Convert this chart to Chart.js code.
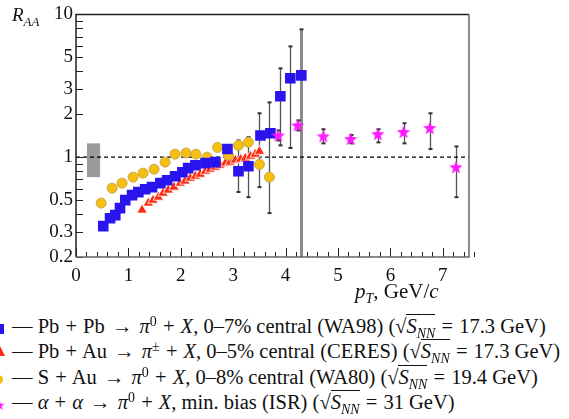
<!DOCTYPE html>
<html>
<head>
<meta charset="utf-8">
<script src="https://cdn.jsdelivr.net/npm/chart.js@4.4.0/dist/chart.umd.min.js"></script>
<style>
  body { margin: 0; background: #fff; width: 569px; height: 419px; overflow: hidden; position: relative; font-family: "Liberation Serif", "Times New Roman", serif; color: #111; }
  #chart { position: absolute; left: 0; top: 0; }
  .lbl { position: absolute; font-size: 19px; white-space: nowrap; line-height: 1; }
  .s { position: relative; font-size: 14px; line-height: 0; }
  .sub { top: 5px; }
  .sup { top: -7px; }
  .legend { position: absolute; left: 12px; top: 314px; font-size: 20.5px; line-height: 25.4px; white-space: nowrap; }
  .legend > div { height: 25.4px; }
  .op { margin: 0 1px; }
  .ar { margin: 0 2px; font-weight: bold; }
  .root { border-top: 1px solid #111; }
  .mk { position: absolute; }
</style>
</head>
<body>
<canvas id="chart" width="569" height="300"></canvas>

<div class="lbl" style="left:12px; top:5px;"><i>R</i><i class="s sub" style="font-size:13px">AA</i></div>
<div class="lbl" style="left:355px; top:281px; font-size:21px;"><i>p</i><i class="s sub">T</i>, GeV/<i>c</i></div>

<div class="mk" style="left:-6px; top:324px; width:10px; height:10px; background:#2a14ee;"></div>
<div class="mk" style="left:-5px; top:346px; width:10px; height:10px; background:#ff2a10; clip-path:polygon(50% 0,100% 100%,0 100%);"></div>
<div class="mk" style="left:-6px; top:375px; width:9px; height:9px; background:#f5bf10; border-radius:50%;"></div>
<div class="mk" style="left:-6px; top:400px; width:11px; height:11px; background:#ff1aff; clip-path:polygon(50% 0,61% 35%,98% 35%,68% 57%,79% 91%,50% 70%,21% 91%,32% 57%,2% 35%,39% 35%);"></div>

<div class="legend">
  <div>— Pb <span class="op">+</span> Pb <span class="ar">→</span> <i>π</i><span class="s sup">0</span> <span class="op">+</span> <i>X</i>, 0–7% central (WA98) (√<span class="root"><i>S</i><i class="s sub">NN</i></span> <span class="op">=</span> 17.3 GeV)</div>
  <div>— Pb <span class="op">+</span> Au <span class="ar">→</span> <i>π</i><span class="s sup">±</span> <span class="op">+</span> <i>X</i>, 0–5% central (CERES) (√<span class="root"><i>S</i><i class="s sub">NN</i></span> <span class="op">=</span> 17.3 GeV)</div>
  <div>— S <span class="op">+</span> Au <span class="ar">→</span> <i>π</i><span class="s sup">0</span> <span class="op">+</span> <i>X</i>, 0–8% central (WA80) (√<span class="root"><i>S</i><i class="s sub">NN</i></span> <span class="op">=</span> 19.4 GeV)</div>
  <div>— <i>α</i> <span class="op">+</span> <i>α</i> <span class="ar">→</span> <i>π</i><span class="s sup">0</span> <span class="op">+</span> <i>X</i>, min. bias (ISR) (√<span class="root"><i>S</i><i class="s sub">NN</i></span> <span class="op">=</span> 31 GeV)</div>
</div>

<script>
// axis ranges and tick labels
const X_MIN = 0;
const X_MAX = 7.5;
const Y_MIN = 0.2;
const Y_MAX = 10;
const xTickLabels = ["0", "1", "2", "3", "4", "5", "6", "7"];
const yTickValues = [0.2, 0.3, 0.4, 0.5, 0.6, 0.7, 0.8, 0.9, 1, 2, 3, 4, 5, 6, 7, 8, 9, 10];
const yTickLabels = [0.2, 0.3, 0.5, 1, 2, 3, 5, 10];

// Pb + Pb (WA98)
const wa98X = [0.52, 0.65, 0.75, 0.84, 0.94, 1.07, 1.19, 1.32, 1.45, 1.61, 1.74, 1.89, 2.03, 2.14, 2.28, 2.47, 2.66, 2.89, 3.10, 3.29, 3.52, 3.71, 3.90, 4.09, 4.30];
const wa98Y = [0.329, 0.374, 0.393, 0.44, 0.5, 0.542, 0.569, 0.597, 0.617, 0.658, 0.69, 0.736, 0.785, 0.838, 0.879, 0.908, 0.923, 1.14, 0.798, 0.865, 1.42, 1.47, 2.67, 3.57, 3.74];

// Pb + Au (CERES)
const ceresX = [1.26, 1.38, 1.47, 1.57, 1.66, 1.76, 1.87, 1.99, 2.08, 2.18, 2.28, 2.37, 2.47, 2.56, 2.66, 2.75, 2.85, 2.94, 3.04, 3.14, 3.23, 3.33, 3.42, 3.50];
const ceresY = [0.426, 0.477, 0.5, 0.525, 0.56, 0.588, 0.617, 0.658, 0.68, 0.713, 0.736, 0.76, 0.798, 0.824, 0.851, 0.879, 0.908, 0.923, 0.953, 0.968, 0.984, 1.016, 1.05, 1.1];

// S + Au (WA80)
const wa80X = [0.48, 0.69, 0.88, 1.09, 1.28, 1.49, 1.70, 1.89, 2.10, 2.29, 2.50, 2.70, 2.91, 3.10, 3.29, 3.50, 3.69];
const wa80Y = [0.477, 0.607, 0.658, 0.725, 0.773, 0.824, 0.923, 1.05, 1.07, 1.05, 1.0, 1.17, 1.03, 1.21, 1.27, 0.89, 0.725];

// alpha + alpha (ISR)
const isrX = [3.86, 4.23, 4.72, 5.24, 5.76, 6.25, 6.75, 7.25];
const isrY = [1.42, 1.67, 1.40, 1.34, 1.45, 1.50, 1.60, 0.85];

// error bars: x, low, high
const errX = [3.10, 3.29, 3.50, 3.69, 3.90, 4.09, 4.30, 3.86, 4.23, 4.72, 5.24, 5.76, 6.25, 6.75, 7.25];
const errLow = [0.57, 0.525, 0.617, 0.406, 1.21, 1.16, 0.2, 1.31, 1.54, 1.25, 1.25, 1.27, 1.25, 1.14, 0.525];
const errHigh = [1.31, 1.38, 2.03, 2.42, 4.19, 5.97, 7.86, 1.54, 1.81, 1.57, 1.43, 1.57, 1.73, 2.03, 1.19];

// normalisation uncertainty box
const normBoxX = [0.21, 0.46];
const normBoxY = [0.725, 1.25];

const refLineX = [X_MIN, X_MAX];
const refLineY = [1, 1];

function toPoints(xs, ys) {
  return xs.map((x, i) => ({ x, y: ys[i] }));
}

function makeStar(size, color) {
  const c = document.createElement("canvas");
  c.width = size;
  c.height = size;
  const g = c.getContext("2d");
  const r = size / 2;
  g.beginPath();
  for (let i = 0; i < 10; i++) {
    const rad = i % 2 === 0 ? r : r * 0.42;
    const a = -Math.PI / 2 + (i * Math.PI) / 5;
    g.lineTo(r + rad * Math.cos(a), r + 0.5 + rad * Math.sin(a));
  }
  g.closePath();
  g.fillStyle = color;
  g.fill();
  return c;
}

const decorPlugin = {
  id: "decor",
  beforeDatasetsDraw(chart) {
    const { ctx, scales: { x, y } } = chart;
    ctx.save();
    // grey box around 1
    const bx0 = x.getPixelForValue(normBoxX[0]);
    const bx1 = x.getPixelForValue(normBoxX[1]);
    const by0 = y.getPixelForValue(normBoxY[1]);
    const by1 = y.getPixelForValue(normBoxY[0]);
    ctx.fillStyle = "#9b9b9b";
    ctx.fillRect(bx0, by0, bx1 - bx0, by1 - by0);

    // error bars
    errX.forEach((ex, i) => {
      const px = Math.round(x.getPixelForValue(ex)) + 0.5;
      const top = y.getPixelForValue(errHigh[i]);
      const bottom = y.getPixelForValue(errLow[i]);
      const full = errLow[i] <= Y_MIN;
      ctx.strokeStyle = full ? "#8a8a8a" : "#555";
      ctx.lineWidth = full ? 3 : 1.3;
      ctx.beginPath();
      ctx.moveTo(px, top);
      ctx.lineTo(px, bottom);
      ctx.stroke();
      ctx.fillStyle = "#333";
      ctx.fillRect(px - 2, top - 1, 4, 2);
      if (!full) ctx.fillRect(px - 2, bottom - 1, 4, 2);
    });
    ctx.restore();
  },
  afterDraw(chart) {
    const { ctx, chartArea: a, scales: { x, y } } = chart;
    ctx.save();
    ctx.strokeStyle = "#222";
    ctx.lineWidth = 1;
    // inward ticks
    ctx.beginPath();
    for (let i = 0; i <= Math.round((X_MAX - X_MIN) / 0.2); i++) {
      const v = X_MIN + i * 0.2;
      const px = Math.round(x.getPixelForValue(v)) + 0.5;
      const major = Math.abs(v - Math.round(v)) < 1e-6;
      ctx.moveTo(px, a.bottom);
      ctx.lineTo(px, a.bottom - (major ? 9 : 5));
    }
    yTickValues.forEach((v) => {
      const py = Math.round(y.getPixelForValue(v)) + 0.5;
      ctx.moveTo(a.left, py);
      ctx.lineTo(a.left + 7, py);
    });
    ctx.stroke();
    // frame
    ctx.lineWidth = 1.5;
    ctx.strokeStyle = "#222";
    ctx.beginPath();
    ctx.moveTo(a.left, a.bottom);
    ctx.lineTo(a.left, a.top);
    ctx.lineTo(a.right, a.top);
    ctx.stroke();
    ctx.strokeStyle = "#666";
    ctx.beginPath();
    ctx.moveTo(a.right, a.top);
    ctx.lineTo(a.right, a.bottom);
    ctx.lineTo(a.left, a.bottom);
    ctx.stroke();
    ctx.restore();
  },
};

const tickFont = { family: "'Liberation Serif', 'Times New Roman', serif", size: 19 };

new Chart(document.getElementById("chart"), {
  type: "scatter",
  data: {
    datasets: [
      {
        label: "ISR",
        data: toPoints(isrX, isrY),
        pointStyle: makeStar(14, "#ff1aff"),
        order: 0,
      },
      {
        label: "WA98",
        data: toPoints(wa98X, wa98Y),
        pointStyle: "rect",
        pointRadius: 7.5,
        backgroundColor: "#2a14ee",
        borderColor: "#2a14ee",
        borderWidth: 0,
        order: 1,
      },
      {
        label: "WA80",
        data: toPoints(wa80X, wa80Y),
        pointStyle: "circle",
        pointRadius: 5,
        backgroundColor: "#f5bf10",
        borderColor: "#c9a84a",
        borderWidth: 1,
        order: 2,
      },
      {
        label: "CERES",
        data: toPoints(ceresX, ceresY),
        pointStyle: "triangle",
        pointRadius: 6,
        backgroundColor: "#ff2a10",
        borderColor: "#ffffff",
        borderWidth: 0.8,
        order: 3,
      },
      {
        label: "ref",
        type: "line",
        data: toPoints(refLineX, refLineY),
        borderColor: "#000",
        borderWidth: 1.2,
        borderDash: [4, 3],
        pointRadius: 0,
        order: 4,
      },
    ],
  },
  options: {
    responsive: false,
    animation: false,
    layout: { padding: { top: 14, right: 100, left: 0, bottom: 0 } },
    plugins: { legend: { display: false }, tooltip: { enabled: false } },
    scales: {
      x: {
        type: "linear",
        min: X_MIN,
        max: X_MAX,
        afterBuildTicks(scale) {
          scale.ticks = xTickLabels.map((t) => ({ value: Number(t) }));
        },
        afterFit(scale) {
          scale.height = 43;
        },
        grid: { display: false, drawTicks: false },
        border: { display: false },
        ticks: {
          autoSkip: false,
          maxRotation: 0,
          padding: 8,
          color: "#111",
          font: tickFont,
          callback: (v) => String(v),
        },
      },
      y: {
        type: "logarithmic",
        min: Y_MIN,
        max: Y_MAX,
        afterBuildTicks(scale) {
          scale.ticks = yTickValues.map((v) => ({ value: v }));
        },
        afterFit(scale) {
          scale.width = 76;
        },
        grid: { display: false, drawTicks: false },
        border: { display: false },
        ticks: {
          autoSkip: false,
          padding: 3,
          color: "#111",
          font: tickFont,
          callback: (v) => (yTickLabels.includes(v) ? String(v) : ""),
        },
      },
    },
  },
  plugins: [decorPlugin],
});
</script>
</body>
</html>
